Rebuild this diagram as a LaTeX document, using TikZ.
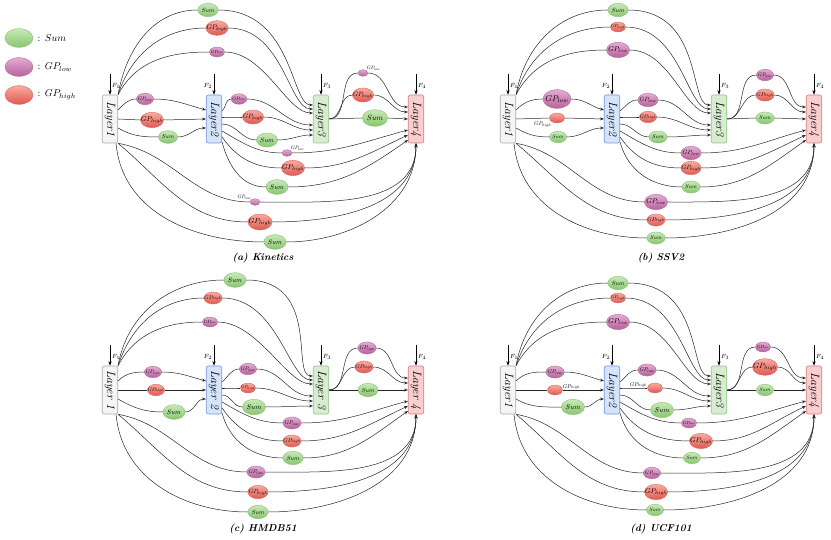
\documentclass[tikz,border=0pt]{standalone}
\usepackage{tikz}
\usepackage{graphicx}
\usetikzlibrary{shapes.geometric, arrows.meta, positioning, calc}
\usepackage{xcolor}

% Colors
\definecolor{sumT}{RGB}{198,234,182}
\definecolor{sumB}{RGB}{136,198,110}
\definecolor{sumD}{RGB}{138,190,118}
\definecolor{lowT}{RGB}{228,172,210}
\definecolor{lowB}{RGB}{184,96,156}
\definecolor{lowD}{RGB}{176,108,158}
\definecolor{highT}{RGB}{250,170,160}
\definecolor{highB}{RGB}{224,88,80}
\definecolor{highD}{RGB}{212,108,98}
\definecolor{l1F}{RGB}{245,245,245}\definecolor{l1D}{RGB}{170,170,170}
\definecolor{l2F}{RGB}{214,228,250}\definecolor{l2D}{RGB}{110,150,225}
\definecolor{l3F}{RGB}{216,236,208}\definecolor{l3D}{RGB}{145,198,135}
\definecolor{l4F}{RGB}{248,206,206}\definecolor{l4D}{RGB}{218,125,125}

\tikzset{
    x=1pt, y=1pt,
    >=Stealth,
    % Layers
    layer/.style={rectangle, rounded corners=2pt, minimum width=15.5pt, minimum height=48pt,
                  inner sep=0pt, line width=0.6pt, font=\fontsize{12}{12}\selectfont\itshape},
    lay1/.style={layer, draw=l1D, fill=l1F},
    lay2/.style={layer, draw=l2D, fill=l2F},
    lay3/.style={layer, draw=l3D, fill=l3F},
    lay4/.style={layer, draw=l4D, fill=l4F},
    % Ellipses
    ell/.style={ellipse, minimum width=33pt, minimum height=22pt, inner sep=0pt, line width=0.4pt},
    sumE/.style={ell, draw=sumD, top color=sumT, bottom color=sumB},
    lowE/.style={ell, draw=lowD, top color=lowT, bottom color=lowB},
    highE/.style={ell, draw=highD, top color=highT, bottom color=highB},
    olbl/.style={inner sep=0.5pt, scale=0.55},
    % Flow & Labels
    wire/.style={line width=0.5pt, black!85},
    link/.style={wire, -{Stealth[length=4pt,width=3pt]}},
    input/.style={line width=0.6pt, -{Stealth[length=4.5pt,width=3.2pt]}},
    flbl/.style={font=\fontsize{6.5}{7}\selectfont, inner sep=1.5pt},
    capt/.style={font=\fontsize{10}{12}\selectfont\bfseries\itshape},
    keylbl/.style={font=\fontsize{10}{12}\selectfont}
}

\newcommand\summ{$Sum$}
\newcommand\gplow{$GP_{low}$}
\newcommand\gphigh{$GP_{high}$}
\newcommand\inell[1]{\makebox[0pt]{#1}}

% four layers with their inputs (#1: gap before the digit)
\newcommand\layers[1]{%
  \node[lay1] (L1) at (110,-119) {\rotatebox{-90}{Layer#11}};
  \node[lay2] (L2) at (214,-119) {\rotatebox{-90}{Layer#12}};
  \node[lay3] (L3) at (321,-119) {\rotatebox{-90}{Layer#13}};
  \node[lay4] (L4) at (416,-119) {\rotatebox{-90}{Layer#14}};
  \coordinate (f1) at ([yshift=21pt]L1.north);
  \coordinate (f2) at ([yshift=21pt]L2.north);
  \coordinate (f3) at ([yshift=21pt]L3.north);
  \coordinate (f4) at ([yshift=21pt]L4.north);
  \draw[input] (f1) -- node[flbl, right, pos=0.6] {$F_1$} (L1);
  \draw[input] (f2) -- node[flbl, left, pos=0.6] {$F_2$} (L2);
  \draw[input] (f3) -- node[flbl, right, pos=0.6] {$F_3$} (L3);
  \draw[input] (f4) -- node[flbl, right, pos=0.6] {$F_4$} (L4);
}

% all connections through the ellipses
\newcommand\links{%
  % Layer1 -> Layer3
  \draw[wire] (L1.north east) to[out=80,in=180] (t1.west);
  \draw[wire] (L1.north east) to[out=72,in=180] (t2.west);
  \draw[wire] (L1.north east) to[out=62,in=180] (t3.west);
  \draw[link] (t1.east) to[out=0,in=180,out distance=75pt,in distance=22pt] ([yshift=14pt]L3.west);
  \draw[link] (t2.east) to[out=0,in=180,out distance=55pt,in distance=24pt] ([yshift=10pt]L3.west);
  \draw[link] (t3.east) to[out=0,in=180,out distance=40pt,in distance=26pt] ([yshift=6pt]L3.west);
  % Layer1 -> Layer2
  \draw[wire] ([yshift=9pt]L1.east) to[out=45,in=180] (p1.west);
  \draw[link] (p1.east) to[out=0,in=165] ([yshift=9pt]L2.west);
  \draw[wire] (L1.east) -- (p2.west);
  \draw[link] (p2.east) -- (L2.west);
  \draw[wire] ([yshift=-9pt]L1.east) to[out=-30,in=180] (p3.west);
  \draw[link] (p3.east) to[out=0,in=180] ([yshift=-9pt]L2.west);
  % Layer2 -> Layer3
  \draw[wire] ([yshift=8pt]L2.east) to[out=40,in=180] (q1.west);
  \draw[link] (q1.east) to[out=0,in=180] ([yshift=-6pt]L3.west);
  \draw[wire] ([yshift=2pt]L2.east) to[out=0,in=180] (q2.west);
  \draw[link] (q2.east) to[out=0,in=180] ([yshift=-11pt]L3.west);
  \draw[wire] ([yshift=-5pt]L2.east) to[out=0,in=180] (q3.west);
  \draw[link] (q3.east) to[out=0,in=180] ([yshift=-16pt]L3.west);
  % Layer2 -> Layer4
  \draw[wire] ([yshift=-12pt]L2.east) to[out=-30,in=180] (r1.west);
  \draw[link] (r1.east) to[out=0,in=195] ([yshift=-11pt]L4.west);
  \draw[wire] ([yshift=-18pt]L2.east) to[out=-55,in=180] (r2.west);
  \draw[link] (r2.east) to[out=0,in=205] ([yshift=-16pt]L4.west);
  \draw[wire] ([yshift=-23pt]L2.east) to[out=-75,in=180] (r3.west);
  \draw[link] (r3.east) to[out=0,in=215] ([yshift=-21pt]L4.west);
  % Layer3 -> Layer4
  \draw[wire] (L3.east) to[out=0,in=180] (s1.west);
  \draw[link] (s1.east) to[out=0,in=180] ([yshift=12pt]L4.west);
  \draw[wire] (L3.east) to[out=0,in=180] (s2.west);
  \draw[link] (s2.east) to[out=0,in=180] ([yshift=7pt]L4.west);
  \draw[wire] (L3.east) -- (s3.west);
  \draw[link] (s3.east) -- (L4.west);
  % Layer1 -> Layer4
  \draw[wire] (L1.south east) to[out=-10,in=180] (u1.west);
  \draw[wire] (L1.south east) to[out=-40,in=180] (u2.west);
  \draw[wire] ([xshift=-2pt]L1.south east) to[out=-85,in=180] (u3.west);
  \draw[link] (u1.east) to[out=0,in=-90] (L4.south);
  \draw[link] (u2.east) to[out=0,in=-90] (L4.south);
  \draw[link] (u3.east) to[out=0,in=-90] (L4.south);
}

\begin{document}
\begin{tikzpicture}

\useasboundingbox (0,0) rectangle (831,-540);

% legend
\node[sumE, scale=0.85] (keySum) at (19,-38) {};
\node[lowE, scale=0.85] (keyLow) at (19,-67) {};
\node[highE, scale=0.85] (keyHigh) at (19,-95) {};
\node[keylbl, right=1pt of keySum] (keySumT) {: \summ};
\node[keylbl, right=1pt of keyLow] (keyLowT) {: \gplow};
\node[keylbl, right=1pt of keyHigh] (keyHighT) {: \gphigh};

% (a) Kinetics
\begin{scope}[name prefix=a-]
  \layers{}
  \node[sumE, scale=0.61] (t1) at (208,-10) {\inell{\summ}};
  \node[highE, scale=0.67] (t2) at (217,-28) {\inell{\gphigh}};
  \node[lowE, scale=0.45] (t3) at (217,-52) {\inell{\gplow}};
  \node[lowE, scale=0.52] (p1) at (145,-99) {\inell{\gplow}};
  \node[highE, scale=0.70] (p2) at (152,-120) {\inell{\gphigh}};
  \node[sumE, scale=0.58] (p3) at (168,-137) {\inell{\summ}};
  \node[lowE, scale=0.48] (q1) at (239,-99) {\inell{\gplow}};
  \node[highE, scale=0.64] (q2) at (253,-117) {\inell{\gphigh}};
  \node[sumE, scale=0.64] (q3) at (267,-140) {\inell{\summ}};
  \node[lowE, scale=0.30] (r1) at (287,-153) {};
  \node[olbl, scale=0.9, anchor=south west] (r1t) at (r1.north east) {\gplow};
  \node[highE, scale=0.70] (r2) at (293,-168) {\inell{\gphigh}};
  \node[sumE, scale=0.67] (r3) at (277,-187) {\inell{\summ}};
  \node[lowE, scale=0.30] (s1) at (363,-73) {};
  \node[olbl, scale=0.9, anchor=south west] (s1t) at (s1.north east) {\gplow};
  \node[highE, scale=0.64] (s2) at (363,-95) {\inell{\gphigh}};
  \node[sumE, scale=0.76] (s3) at (375,-118) {\inell{\summ}};
  \node[lowE, scale=0.30] (u1) at (255,-202) {};
  \node[olbl, scale=0.9, anchor=south east] (u1t) at (u1.north west) {\gplow};
  \node[highE, scale=0.73] (u2) at (260,-222) {\inell{\gphigh}};
  \node[sumE, scale=0.67] (u3) at (275,-242) {\inell{\summ}};
  \links
  \node[capt] (cap) at (263,-258) {(a) Kinetics};
\end{scope}

% (b) SSV2
\begin{scope}[shift={(398,0)}, name prefix=b-]
  \layers{}
  \node[sumE, scale=0.61] (t1) at (220,-10) {\inell{\summ}};
  \node[highE, scale=0.45] (t2) at (220,-27) {\inell{\gphigh}};
  \node[lowE, scale=0.70] (t3) at (220,-50) {\inell{\gplow}};
  \node[lowE, scale=0.85] (p1) at (159,-99) {\inell{\gplow}};
  \node[highE, scale=0.45] (p2) at (159,-118) {};
  \node[olbl, anchor=north east] (p2t) at (p2.south west) {\gphigh};
  \node[sumE, scale=0.52] (p3) at (160,-137) {\inell{\summ}};
  \node[lowE, scale=0.61] (q1) at (250,-100) {\inell{\gplow}};
  \node[highE, scale=0.52] (q2) at (250,-117) {\inell{\gphigh}};
  \node[sumE, scale=0.55] (q3) at (260,-137) {\inell{\summ}};
  \node[lowE, scale=0.61] (r1) at (293,-153) {\inell{\gplow}};
  \node[highE, scale=0.61] (r2) at (293,-168) {\inell{\gphigh}};
  \node[sumE, scale=0.55] (r3) at (293,-187) {\inell{\summ}};
  \node[lowE, scale=0.52] (s1) at (367,-75) {\inell{\gplow}};
  \node[highE, scale=0.55] (s2) at (367,-95) {\inell{\gphigh}};
  \node[sumE, scale=0.55] (s3) at (367,-118) {\inell{\summ}};
  \node[lowE, scale=0.70] (u1) at (258,-202) {\inell{\gplow}};
  \node[highE, scale=0.55] (u2) at (258,-220) {\inell{\gphigh}};
  \node[sumE, scale=0.55] (u3) at (258,-238) {\inell{\summ}};
  \links
  \node[capt] (cap) at (263,-258) {(b) SSV2};
\end{scope}

% (c) HMDB51
\begin{scope}[shift={(0,-271)}, name prefix=c-]
  \layers{\ }
  \node[sumE, scale=0.67] (t1) at (235,-9) {\inell{\summ}};
  \node[highE, scale=0.55] (t2) at (213,-27) {\inell{\gphigh}};
  \node[lowE, scale=0.45] (t3) at (210,-51) {\inell{\gplow}};
  \node[lowE, scale=0.52] (p1) at (153,-101) {\inell{\gplow}};
  \node[highE, scale=0.52] (p2) at (156,-119) {\inell{\gphigh}};
  \node[sumE, scale=0.67] (p3) at (174,-141) {\inell{\summ}};
  \node[lowE, scale=0.52] (q1) at (248,-98) {\inell{\gplow}};
  \node[highE, scale=0.45] (q2) at (248,-117) {\inell{\gphigh}};
  \node[sumE, scale=0.70] (q3) at (254,-136) {\inell{\summ}};
  \node[lowE, scale=0.55] (r1) at (292,-152) {\inell{\gplow}};
  \node[highE, scale=0.55] (r2) at (292,-170) {\inell{\gphigh}};
  \node[sumE, scale=0.61] (r3) at (293,-187) {\inell{\summ}};
  \node[lowE, scale=0.55] (s1) at (367,-77) {\inell{\gplow}};
  \node[highE, scale=0.55] (s2) at (364,-96) {\inell{\gphigh}};
  \node[sumE, scale=0.61] (s3) at (368,-119) {\inell{\summ}};
  \node[lowE, scale=0.55] (u1) at (256,-201) {\inell{\gplow}};
  \node[highE, scale=0.61] (u2) at (258,-221) {\inell{\gphigh}};
  \node[sumE, scale=0.61] (u3) at (258,-241) {\inell{\summ}};
  \links
  \node[capt] (cap) at (263,-258) {(c) HMDB51};
\end{scope}

% (d) UCF101
\begin{scope}[shift={(398,-271)}, name prefix=d-]
  \layers{}
  \node[sumE, scale=0.61] (t1) at (220,-12) {\inell{\summ}};
  \node[highE, scale=0.45] (t2) at (220,-27) {\inell{\gphigh}};
  \node[lowE, scale=0.70] (t3) at (220,-51) {\inell{\gplow}};
  \node[lowE, scale=0.55] (p1) at (157,-101) {\inell{\gplow}};
  \node[highE, scale=0.45] (p2) at (157,-119) {};
  \node[olbl, anchor=south west] (p2t) at (p2.east) {\gphigh};
  \node[sumE, scale=0.70] (p3) at (175,-136) {\inell{\summ}};
  \node[lowE, scale=0.55] (q1) at (249,-99) {\inell{\gplow}};
  \node[highE, scale=0.45] (q2) at (257,-117) {};
  \node[olbl, anchor=south east] (q2t) at (q2.west) {\gphigh};
  \node[sumE, scale=0.70] (q3) at (264,-139) {\inell{\summ}};
  \node[lowE, scale=0.45] (r1) at (291,-152) {\inell{\gplow}};
  \node[highE, scale=0.70] (r2) at (303,-170) {\inell{\gphigh}};
  \node[sumE, scale=0.52] (r3) at (294,-187) {\inell{\summ}};
  \node[lowE, scale=0.45] (s1) at (365,-76) {\inell{\gplow}};
  \node[highE, scale=0.76] (s2) at (367,-96) {\inell{\gphigh}};
  \node[sumE, scale=0.52] (s3) at (367,-119) {\inell{\summ}};
  \node[lowE, scale=0.52] (u1) at (254,-202) {\inell{\gplow}};
  \node[highE, scale=0.70] (u2) at (258,-221) {\inell{\gphigh}};
  \node[sumE, scale=0.52] (u3) at (257,-239) {\inell{\summ}};
  \links
  \node[capt] (cap) at (263,-258) {(d) UCF101};
\end{scope}

\end{tikzpicture}
\end{document}
